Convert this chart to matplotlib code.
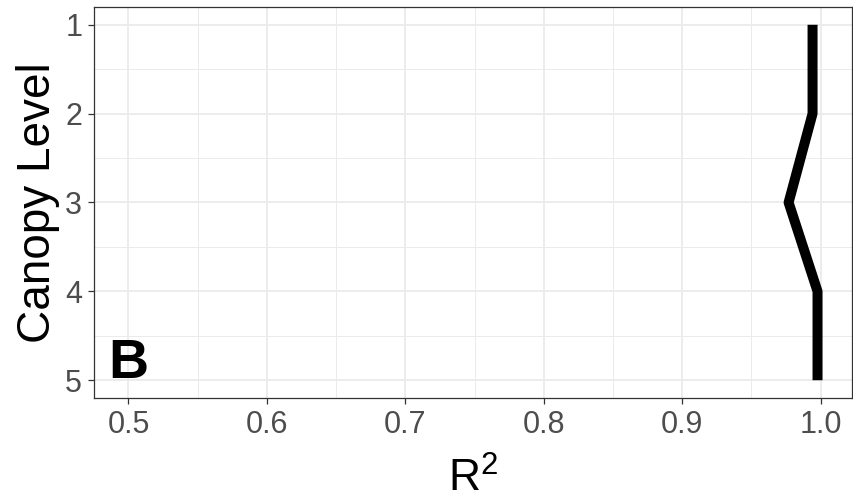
import matplotlib
matplotlib.use('Agg')
import matplotlib.pyplot as plt
from matplotlib.ticker import MultipleLocator

# data
canopy_level = [1, 2, 3, 4, 5]
r2 = [0.9942, 0.9942, 0.9769, 0.9978, 0.9978]
x_ticks = [0.5, 0.6, 0.7, 0.8, 0.9, 1.0]
y_ticks = [1, 2, 3, 4, 5]
panel_label = "B"

plt.rcParams['font.family'] = ['Liberation Sans', 'DejaVu Sans']
plt.rcParams['mathtext.fontset'] = 'custom'
plt.rcParams['mathtext.rm'] = 'Liberation Sans'
plt.rcParams['mathtext.it'] = 'Liberation Sans'

fig = plt.figure(figsize=(8.54, 5.04), dpi=100)
ax = fig.add_axes([94 / 854, 1 - 398 / 504, (852 - 94) / 854, (398 - 7) / 504])

ax.plot(r2, canopy_level, color='black', lw=7.2, solid_joinstyle='round',
        solid_capstyle='butt', zorder=3)

ax.set_xlim(0.4751, 1.0227)
ax.set_ylim(5.2, 0.8)
ax.set_xticks(x_ticks)
ax.set_xticklabels([f"{v:.1f}" for v in x_ticks])
ax.set_yticks(y_ticks)
ax.xaxis.set_minor_locator(MultipleLocator(0.05))
ax.yaxis.set_minor_locator(MultipleLocator(0.5))

ax.grid(which='major', color='#EBEBEB', lw=1.3, zorder=0)
ax.grid(which='minor', color='#EBEBEB', lw=0.7, zorder=0)
ax.set_axisbelow(True)
for s in ax.spines.values():
    s.set_color('#333333')
    s.set_linewidth(0.9)

ax.tick_params(which='major', length=4.5, width=0.9, color='#333333',
               labelsize=22, labelcolor='#4D4D4D', pad=4)
ax.tick_params(which='minor', length=0)

ax.set_xlabel(r'R$^2$', fontsize=32, labelpad=13)
ax.set_ylabel('Canopy Level', fontsize=33, labelpad=4)

ax.text(0.5, 4.97, panel_label, fontsize=40, fontweight='bold',
        ha='center', va='baseline')

fig.savefig('out.png', dpi=100)
